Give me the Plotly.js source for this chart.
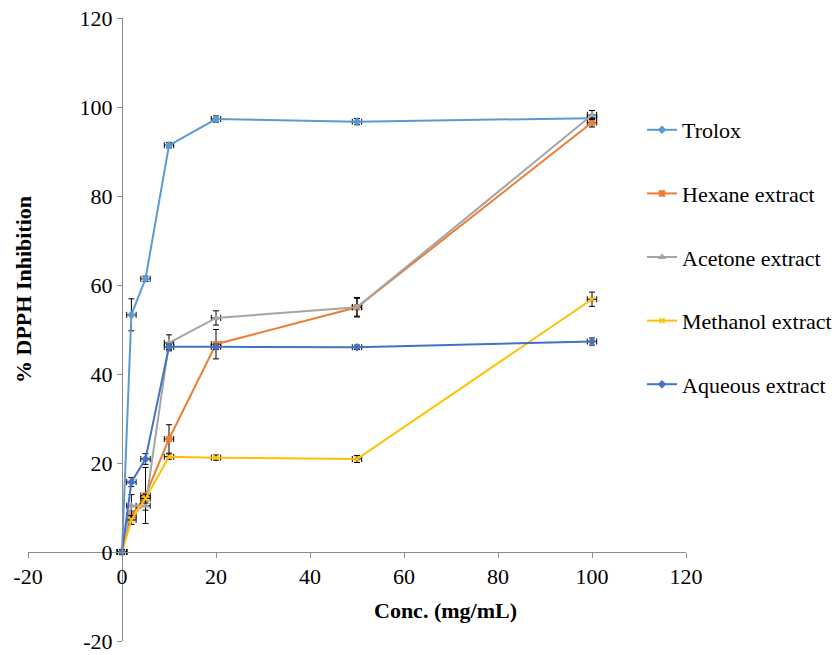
<!DOCTYPE html>
<html>
<head>
<meta charset="utf-8">
<script src="https://cdn.plot.ly/plotly-3.0.1.min.js"></script>
<style>html,body{margin:0;padding:0;background:#fff;}#chart{width:835px;height:655px;}</style>
</head>
<body>
<div id="chart"></div>
<script>
var conc = [0, 2, 5, 10, 20, 50, 100];
var trolox = [0, 53.3, 61.4, 91.4, 97.3, 96.7, 97.5];
var troloxErr = [0.5, 3.6, 0.6, 0.6, 0.7, 0.7, 0.7];
var hexane = [0, 8.2, 12.7, 25.4, 46.7, 55.0, 96.5];
var hexaneErr = [0.5, 1.0, 6.3, 3.2, 3.3, 2.0, 1.0];
var acetone = [0, 10.4, 10.4, 47.0, 52.6, 55.0, 98.2];
var acetoneErr = [0.5, 2.5, 1.0, 1.8, 1.6, 2.2, 1.0];
var methanol = [0, 7.2, 12.0, 21.4, 21.2, 20.9, 56.8];
var methanolErr = [0.5, 1.0, 1.0, 0.6, 0.6, 0.8, 1.6];
var aqueous = [0, 15.7, 20.9, 46.1, 46.1, 46.0, 47.3];
var aqueousErr = [0.5, 1.0, 1.2, 0.6, 0.6, 0.5, 0.8];
var tickValues = [-20, 0, 20, 40, 60, 80, 100, 120];
var tickLabels = ['-20', '0', '20', '40', '60', '80', '100', '120'];
var names = ['Trolox', 'Hexane extract', 'Acetone extract', 'Methanol extract', 'Aqueous extract'];
var colors = ['#5B9BD5', '#ED7D31', '#A5A5A5', '#FFC000', '#4472C4'];
var symbols = ['diamond', 'square', 'triangle-up', 'x-thin', 'diamond'];
var series = [trolox, hexane, acetone, methanol, aqueous];
var errs = [troloxErr, hexaneErr, acetoneErr, methanolErr, aqueousErr];

var traces = series.map(function(s, i) {
  return {
    x: conc, y: s, name: names[i], type: 'scatter', mode: 'lines+markers',
    legendgroup: 'g' + i,
    line: {color: colors[i], width: 2},
    marker: {symbol: symbols[i], size: 5, color: colors[i], line: {color: colors[i], width: 1.5}},
    error_y: {type: 'data', array: errs[i], visible: true, color: '#000', thickness: 1, width: 3},
    error_x: {type: 'constant', value: 1, visible: true, color: '#000', thickness: 1, width: 3}
  };
});

var font = {family: 'Liberation Serif', color: '#000', size: 22};
var zeroPos = 20 / 140;
var mT = 18, mB = 14, plotH = 655 - mT - mB, plotBottom = 655 - mB;
var axisCommon = {range: [-20, 120], tickmode: 'array', tickvals: tickValues, ticktext: tickLabels,
  showgrid: false, zeroline: false, showline: true, linecolor: '#8C8C8C', linewidth: 1,
  ticks: 'outside', ticklen: 5, tickcolor: '#8C8C8C', anchor: 'free', position: zeroPos,
  tickfont: font, ticklabeloverflow: 'allow'};
var layout = {
  width: 835, height: 655,
  margin: {l: 28, r: 149, t: mT, b: mB, autoexpand: false},
  paper_bgcolor: '#fff', plot_bgcolor: '#fff',
  font: font,
  showlegend: true,
  legend: {xref: 'container', yref: 'container', x: 642 / 835, xanchor: 'left', y: 1 - 109 / 655, yanchor: 'top', font: font,
           tracegroupgap: 32, traceorder: 'grouped', bgcolor: 'rgba(0,0,0,0)', itemwidth: 30},
  xaxis: Object.assign({}, axisCommon),
  yaxis: Object.assign({}, axisCommon),
  annotations: [
    {text: '<b>Conc. (mg/mL)</b>', xref: 'paper', yref: 'paper', x: (445 - 28) / 658, y: (plotBottom - 610) / plotH,
     showarrow: false, font: font, xanchor: 'center', yanchor: 'middle'},
    {text: '<b>% DPPH Inhibition</b>', xref: 'paper', yref: 'paper', x: (23 - 28) / 658, y: (plotBottom - 290) / plotH,
     showarrow: false, font: font, textangle: -90, xanchor: 'center', yanchor: 'middle'}
  ]
};
Plotly.newPlot('chart', traces, layout, {displayModeBar: false});
</script>
</body>
</html>
